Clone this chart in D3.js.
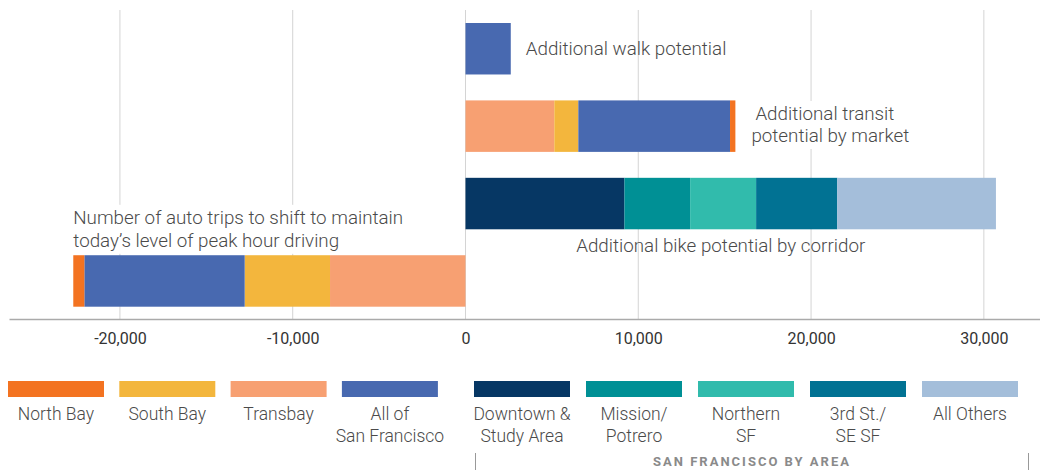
<!DOCTYPE html>
<html>
<head>
<meta charset="utf-8">
<script src="https://cdn.jsdelivr.net/npm/d3@7/dist/d3.min.js"></script>
<style>
  html, body { margin: 0; padding: 0; background: #fff; }
  svg { display: block; }
  text { font-family: Roboto, "DejaVu Sans", sans-serif; }
</style>
</head>
<body>
<div id="chart"></div>
<script>
// ---------- DATA ----------
const rows = ["walk", "transit", "bike", "auto"];

const marketKeys = ["Transbay", "South Bay", "All of San Francisco", "North Bay"];
const marketLegendOrder = ["North Bay", "South Bay", "Transbay", "All of San Francisco"];
const marketLegendLabels = [["North Bay"], ["South Bay"], ["Transbay"], ["All of", "San Francisco"]];
const marketColors = ["#F7A072", "#F3B63D", "#4869B0", "#F37321"];

const walkValues = [2620];                         // All of San Francisco
const transitValues = [5140, 1390, 8780, 310];     // Transbay, South Bay, All SF, North Bay
const autoValues = [-7840, -4940, -9280, -640];    // Transbay, South Bay, All SF, North Bay

const corridorKeys = ["Downtown & Study Area", "Mission/Potrero", "Northern SF", "3rd St./SE SF", "All Others"];
const corridorLegendLabels = [["Downtown &", "Study Area"], ["Mission/", "Potrero"], ["Northern", "SF"], ["3rd St./", "SE SF"], ["All Others"]];
const corridorColors = ["#063764", "#009095", "#31BBAC", "#017293", "#A4BEDA"];
const bikeValues = [9200, 3800, 3820, 4700, 9180];

const tickValues = [-20000, -10000, 0, 10000, 20000, 30000];

const walkLabel = ["Additional walk potential"];
const transitLabel = ["Additional transit", "potential by market"];
const bikeLabel = ["Additional bike potential by corridor"];
const autoLabel = ["Number of auto trips to shift to maintain", "today\u2019s level of peak hour driving"];
const bracketLabel = "SAN FRANCISCO BY AREA";

// ---------- CHART ----------
const W = 1040, H = 470;
const svg = d3.select("#chart").append("svg").attr("width", W).attr("height", H);

const x = d3.scaleLinear().domain([-26420, 33250]).range([9, 1040]);
const y = d3.scaleBand().domain(rows).range([23, 306.7]).paddingInner(0.335).paddingOuter(0);
const axisY = 319;

// gridlines
svg.append("g").selectAll("line").data(tickValues).join("line")
  .attr("x1", d => x(d)).attr("x2", d => x(d))
  .attr("y1", 10).attr("y2", axisY)
  .attr("stroke", "#d4d4d4").attr("stroke-width", 1);

// white backings behind some annotations (they hide gridlines in the original)
const bgLayer = svg.append("g");

function segments(values, colors) {
  let acc = 0;
  return values.map((v, i) => {
    const s = { x0: acc, x1: acc + v, color: colors[i] };
    acc += v;
    return s;
  });
}

const barData = [
  { row: "walk", segs: segments(walkValues, [marketColors[2]]) },
  { row: "transit", segs: segments(transitValues, marketColors) },
  { row: "bike", segs: segments(bikeValues, corridorColors) },
  { row: "auto", segs: segments(autoValues, marketColors) }
];

const bars = svg.append("g");
barData.forEach(b => {
  bars.selectAll(null).data(b.segs).join("rect")
    .attr("x", d => x(Math.min(d.x0, d.x1)))
    .attr("width", d => Math.abs(x(d.x1) - x(d.x0)))
    .attr("y", y(b.row))
    .attr("height", y.bandwidth())
    .attr("fill", d => d.color);
});

// axis
const fmt = d3.format(",");
const axis = d3.axisBottom(x).tickValues(tickValues).tickSize(0).tickPadding(14)
  .tickFormat(d => fmt(d).replace("\u2212", "-")).tickSizeOuter(0);
const gAxis = svg.append("g").attr("transform", `translate(0,${axisY})`).call(axis);
gAxis.select(".domain").attr("stroke", "#aaaaaa").attr("stroke-width", 1.5);
gAxis.selectAll("text").attr("font-size", 16).attr("fill", "#333").attr("font-family", "Roboto, sans-serif");

// annotations
const annoColor = "#4a4a4a";
const annoSize = 18.8;
function addText(lines, xPos, yCenter, anchor, lineH, bg) {
  const g = svg.append("g");
  const t = g.append("text")
    .attr("font-size", annoSize).attr("font-weight", 300).attr("fill", annoColor)
    .attr("text-anchor", anchor);
  lines.forEach((l, i) => {
    t.append("tspan").attr("x", Array.isArray(xPos) ? xPos[i] : xPos)
      .attr("y", yCenter + i * lineH).attr("dy", "0.35em").text(l);
  });
  if (bg) {
    const bb = t.node().getBBox();
    bgLayer.append("rect").attr("x", bb.x - 2).attr("y", bb.y - 2)
      .attr("width", bb.width + 4).attr("height", bb.height + 4).attr("fill", "#fff");
  }
}

const walkEnd = d3.sum(walkValues);
const transitEnd = d3.sum(transitValues);
const bikeEnd = d3.sum(bikeValues);
const autoEnd = d3.sum(autoValues);

addText(walkLabel, x(walkEnd) + 15, y("walk") + y.bandwidth() / 2, "start", 0, false);
addText(transitLabel, [x(transitEnd) + 20, x(transitEnd) + 16], y("transit") + 13, "start", 22, true);
addText(bikeLabel, x(bikeEnd / 2) - 10, y("bike") + y.bandwidth() + 16, "middle", 0, false);
addText(autoLabel, x(autoEnd), y("auto") - 38, "start", 23, true);

// ---------- LEGEND ----------
const legendTop = 381, legendH = 16, legendW = 96;
const legendItems = [];
marketLegendOrder.forEach((k, i) => {
  legendItems.push({ x: 8 + i * 111.3, color: marketColors[marketKeys.indexOf(k)], lines: marketLegendLabels[i] });
});
corridorKeys.forEach((k, i) => {
  legendItems.push({ x: 474 + i * 112, color: corridorColors[i], lines: corridorLegendLabels[i] });
});
const lg = svg.append("g");
legendItems.forEach(it => {
  lg.append("rect").attr("x", it.x).attr("y", legendTop).attr("width", legendW).attr("height", legendH).attr("fill", it.color);
  const t = lg.append("text").attr("font-size", 17.5).attr("font-weight", 300).attr("fill", annoColor).attr("text-anchor", "middle");
  it.lines.forEach((l, i) => {
    t.append("tspan").attr("x", it.x + legendW / 2).attr("y", 414 + i * 21.5).attr("dy", "0.35em").text(l);
  });
});

// bracket
const bx0 = 475.5, bx1 = 1028.5;
lg.append("line").attr("x1", bx0).attr("x2", bx0).attr("y1", 453).attr("y2", 470).attr("stroke", "#999");
lg.append("line").attr("x1", bx1).attr("x2", bx1).attr("y1", 453).attr("y2", 470).attr("stroke", "#999");
lg.append("text").attr("x", (bx0 + bx1) / 2).attr("y", 461).attr("dy", "0.35em")
  .attr("text-anchor", "middle").attr("font-size", 13).attr("font-weight", 700)
  .attr("letter-spacing", 2).attr("fill", "#8a8a8a").text(bracketLabel);
</script>
</body>
</html>
